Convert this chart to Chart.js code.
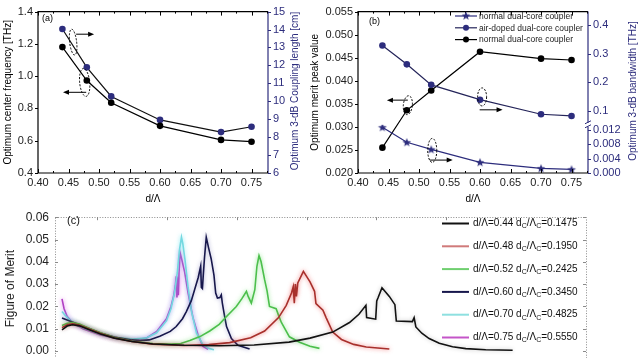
<!DOCTYPE html>
<html>
<head>
<meta charset="utf-8">
<title>Dual-core coupler charts</title>
<script src="https://cdn.jsdelivr.net/npm/chart.js@4.4.1/dist/chart.umd.min.js"></script>
<style>
  html, body { margin: 0; padding: 0; background: #fff; overflow: hidden; }
  body { width: 640px; height: 358px; position: relative; }
  canvas { position: absolute; }
</style>
</head>
<body>
<canvas id="chartA" width="305" height="206" style="left:0;top:0"></canvas>
<canvas id="chartB" width="340" height="206" style="left:300px;top:0"></canvas>
<canvas id="chartC" width="640" height="180" style="left:0;top:204px"></canvas>
<script>
Chart.defaults.font.family = '"Liberation Sans", Arial, sans-serif';
Chart.defaults.color = '#000';

const navy = '#2d2d7d';

// (a) and (b): sweep of d/Λ
const dRatio = [0.44, 0.48, 0.52, 0.60, 0.70, 0.75];
const centerFreq = [1.18, 0.973, 0.835, 0.692, 0.605, 0.594];
const couplingLength = [14.03, 11.89, 10.27, 8.96, 8.28, 8.58];
const meritPeak = [0.0255, 0.0336, 0.0379, 0.0463, 0.0448, 0.0445];
const bandwidthAir = [0.328, 0.262, 0.190, 0.138, 0.087, 0.081];
const bandwidthNormal = [0.0128, 0.0086, 0.0066, 0.0030, 0.0013, 0.0010];

const ratioTicks = [0.40, 0.45, 0.50, 0.55, 0.60, 0.65, 0.70, 0.75];
const freqTicks = [0.4, 0.6, 0.8, 1.0, 1.2, 1.4];
const lengthTicks = [6, 7, 8, 9, 10, 11, 12, 13, 14, 15];
const meritTicks = [0.020, 0.025, 0.030, 0.035, 0.040, 0.045, 0.050, 0.055];
const bwHighTicks = [0.1, 0.2, 0.3, 0.4];
const bwLowTicks = [0.000, 0.004, 0.008, 0.012];

const legendB = ['normal dual-core coupler', 'air-doped dual-core coupler', 'normal dual-core coupler'];

// (c): figure of merit spectra, [frequency, FOM]
const fomTicks = [0.00, 0.01, 0.02, 0.03, 0.04, 0.05, 0.06];
const spectrumTicks = [0.4, 0.6, 0.8, 1.0, 1.2, 1.4, 1.6, 1.8];
const holeRatio = ['0.44', '0.48', '0.52', '0.60', '0.70', '0.75'];
const coreRatio = ['0.1475', '0.1950', '0.2425', '0.3450', '0.4825', '0.5550'];

const fom044 = [[0.300,0.0095],[0.315,0.0112],[0.330,0.0118],[0.350,0.0113],[0.380,0.0095],[0.410,0.0077],
  [0.450,0.0058],[0.500,0.0043],[0.560,0.0032],[0.650,0.0026],[0.750,0.0024],[0.850,0.0027],[0.950,0.0040],
  [1.010,0.0058],[1.075,0.0085],[1.123,0.0128],[1.150,0.0165],[1.170,0.0205],[1.172,0.0150],[1.198,0.0143],
  [1.201,0.0225],[1.205,0.0240],[1.216,0.0284],[1.237,0.0245],[1.253,0.0208],[1.257,0.0135],[1.303,0.0132],
  [1.308,0.0150],[1.313,0.0108],[1.330,0.0080],[1.351,0.0056],[1.380,0.0035],[1.418,0.0019],[1.456,0.0011],
  [1.513,0.0006],[1.590,0.0004]];
const fom048 = [[0.300,0.0105],[0.315,0.0118],[0.330,0.0122],[0.350,0.0116],[0.380,0.0097],[0.410,0.0079],
  [0.450,0.0059],[0.500,0.0043],[0.560,0.0031],[0.650,0.0025],[0.720,0.0029],[0.780,0.0038],[0.840,0.0060],
  [0.880,0.0090],[0.920,0.0150],[0.942,0.0205],[0.957,0.0260],[0.962,0.0288],[0.965,0.0215],[0.968,0.0300],
  [0.971,0.0245],[0.975,0.0305],[0.991,0.0357],[1.010,0.0310],[1.023,0.0268],[1.027,0.0213],[1.047,0.0183],
  [1.056,0.0150],[1.075,0.0085],[1.100,0.0052],[1.135,0.0030],[1.171,0.0018],[1.237,0.0009]];
const fom052 = [[0.300,0.0115],[0.315,0.0125],[0.330,0.0128],[0.350,0.0121],[0.380,0.0100],[0.410,0.0082],
  [0.450,0.0061],[0.500,0.0044],[0.560,0.0034],[0.610,0.0031],[0.640,0.0034],[0.666,0.0047],[0.695,0.0065],
  [0.723,0.0090],[0.750,0.0120],[0.771,0.0155],[0.799,0.0200],[0.815,0.0235],[0.828,0.0268],[0.833,0.0245],
  [0.842,0.0215],[0.852,0.0275],[0.858,0.0380],[0.864,0.0428],[0.870,0.0400],[0.880,0.0320],[0.887,0.0270],
  [0.894,0.0200],[0.913,0.0190],[0.920,0.0160],[0.928,0.0128],[0.951,0.0064],[0.980,0.0040],[1.010,0.0022],
  [1.037,0.0012]];
const fom060 = [[0.300,0.0148],[0.320,0.0136],[0.350,0.0118],[0.380,0.0100],[0.410,0.0081],[0.450,0.0063],
  [0.500,0.0050],[0.523,0.0047],[0.550,0.0050],[0.580,0.0066],[0.610,0.0088],[0.627,0.0110],[0.645,0.0145],
  [0.656,0.0177],[0.670,0.0225],[0.680,0.0277],[0.690,0.0330],[0.697,0.0380],[0.699,0.0285],[0.702,0.0280],
  [0.704,0.0330],[0.708,0.0420],[0.713,0.0510],[0.720,0.0460],[0.727,0.0414],[0.735,0.0340],[0.740,0.0260],
  [0.745,0.0238],[0.752,0.0240],[0.756,0.0252],[0.759,0.0215],[0.765,0.0160],[0.771,0.0110],[0.785,0.0056],
  [0.804,0.0026],[0.837,0.0009]];
const fom070 = [[0.300,0.0177],[0.310,0.0158],[0.325,0.0136],[0.360,0.0106],[0.410,0.0077],[0.456,0.0061],
  [0.503,0.0054],[0.540,0.0058],[0.571,0.0082],[0.599,0.0135],[0.612,0.0190],[0.622,0.0260],[0.630,0.0350],
  [0.636,0.0450],[0.642,0.0510],[0.646,0.0480],[0.652,0.0410],[0.661,0.0285],[0.671,0.0175],[0.685,0.0080],
  [0.703,0.0030],[0.720,0.0012],[0.735,0.0006]];
const fom075 = [[0.300,0.0234],[0.306,0.0190],[0.315,0.0155],[0.330,0.0128],[0.360,0.0100],[0.410,0.0072],
  [0.456,0.0056],[0.503,0.0051],[0.540,0.0057],[0.571,0.0088],[0.599,0.0145],[0.612,0.0200],[0.620,0.0250],
  [0.625,0.0300],[0.627,0.0335],[0.629,0.0240],[0.631,0.0330],[0.633,0.0250],[0.635,0.0350],[0.638,0.0442],
  [0.643,0.0410],[0.651,0.0355],[0.661,0.0260],[0.675,0.0150],[0.689,0.0075],[0.703,0.0022],[0.718,0.0008]];

const spectra = [fom044, fom048, fom052, fom060, fom070, fom075];
const lineColors = ['#111111', '#a8302c', '#4cbf4c', '#17174c', '#74d8e0', '#b040c4'];
const glowColors = ['rgba(0,0,0,0.25)', 'rgba(235,60,60,0.7)', 'rgba(90,220,90,0.7)', 'rgba(40,40,140,0.4)', 'rgba(110,230,240,0.8)', 'rgba(220,80,230,0.8)'];
const legendColors = ['#111111', '#d07a7a', '#6fcf6f', '#17174c', '#8ee0e0', '#c455c8'];

function setTicks(list) { return scale => { scale.ticks = list.map(v => ({ value: v })); }; }
function fixWidth(w) { return scale => { scale.width = w; }; }
function fixHeight(h) { return scale => { scale.height = h; }; }
function xy(xs, ys) { return xs.map((x, i) => ({ x: x, y: ys[i] })); }

function starImage(color) {
  const c = document.createElement('canvas');
  c.width = 10; c.height = 10;
  const g = c.getContext('2d');
  g.fillStyle = color;
  g.beginPath();
  for (let i = 0; i < 10; i++) {
    const r = i % 2 ? 1.9 : 4.6;
    const a = -Math.PI / 2 + i * Math.PI / 5;
    g.lineTo(5 + r * Math.cos(a), 5.4 + r * Math.sin(a));
  }
  g.closePath();
  g.fill();
  return c;
}

// frame with inward x ticks and outward y ticks
const framePlugin = {
  id: 'frame',
  afterDraw(chart, args, opts) {
    const { ctx, chartArea: a, scales } = chart;
    ctx.save();
    ctx.lineWidth = 1.2;
    ctx.strokeStyle = '#000';
    ctx.beginPath();
    ctx.moveTo(a.right, a.top); ctx.lineTo(a.left, a.top);
    ctx.lineTo(a.left, a.bottom); ctx.lineTo(a.right, a.bottom);
    ctx.stroke();
    ctx.strokeStyle = opts.rightColor;
    ctx.beginPath(); ctx.moveTo(a.right, a.top); ctx.lineTo(a.right, a.bottom); ctx.stroke();

    ctx.lineWidth = 1;
    ctx.strokeStyle = '#000';
    const xs = scales.x;
    ctx.beginPath();
    xs.ticks.forEach(t => {
      [[t.value, 4], [t.value + 0.025, 2]].forEach(([v, len]) => {
        if (v > xs.max) return;
        const px = Math.round(xs.getPixelForValue(v)) + 0.5;
        ctx.moveTo(px, a.bottom); ctx.lineTo(px, a.bottom - len);
        ctx.moveTo(px, a.top); ctx.lineTo(px, a.top + len);
      });
    });
    ctx.stroke();

    Object.values(scales).forEach(s => {
      if (s.axis !== 'y') return;
      const left = s.position === 'left';
      const x0 = left ? a.left : a.right;
      ctx.strokeStyle = left ? '#000' : opts.rightColor;
      ctx.beginPath();
      s.ticks.forEach(t => {
        const py = Math.round(s.getPixelForValue(t.value)) + 0.5;
        ctx.moveTo(x0, py); ctx.lineTo(x0 + (left ? -3 : 3), py);
      });
      ctx.stroke();
    });

    if (opts.breakAt) {
      const y = scales[opts.breakAt].top;
      ctx.fillStyle = '#fff';
      ctx.fillRect(a.right - 4, y - 2, 8, 4);
      ctx.strokeStyle = opts.rightColor;
      ctx.beginPath();
      ctx.moveTo(a.right - 3, y - 1); ctx.lineTo(a.right + 3, y - 4);
      ctx.moveTo(a.right - 3, y + 3); ctx.lineTo(a.right + 3, y);
      ctx.stroke();
    }
    ctx.restore();
  }
};

// dashed ellipses and arrows that point at the axis of each curve
const markPlugin = {
  id: 'marks',
  afterDatasetsDraw(chart, args, opts) {
    const { ctx, scales } = chart;
    const xs = scales.x, ys = scales.y;
    ctx.save();
    ctx.strokeStyle = '#000';
    ctx.fillStyle = '#000';
    ctx.lineWidth = 1;
    ctx.setLineDash([2, 1.5]);
    (opts.ellipses || []).forEach(e => {
      ctx.beginPath();
      ctx.ellipse(xs.getPixelForValue(e.x), ys.getPixelForValue(e.y), e.rx, e.ry, e.rot || 0, 0, Math.PI * 2);
      ctx.stroke();
    });
    ctx.setLineDash([]);
    (opts.arrows || []).forEach(r => {
      const x1 = xs.getPixelForValue(r.from), x2 = xs.getPixelForValue(r.to), y = ys.getPixelForValue(r.y);
      const dir = Math.sign(x2 - x1);
      ctx.beginPath(); ctx.moveTo(x1, y); ctx.lineTo(x2 - dir * 4, y); ctx.stroke();
      ctx.beginPath();
      ctx.moveTo(x2, y); ctx.lineTo(x2 - dir * 6, y - 2.5); ctx.lineTo(x2 - dir * 6, y + 2.5);
      ctx.closePath(); ctx.fill();
    });
    ctx.restore();
  }
};

// free text: panel tags and right-hand titles that read bottom to top
const textPlugin = {
  id: 'texts',
  afterDraw(chart, args, opts) {
    const ctx = chart.ctx;
    (opts.items || []).forEach(t => {
      ctx.save();
      ctx.font = t.size + 'px "Liberation Sans", Arial, sans-serif';
      ctx.fillStyle = t.color || '#000';
      ctx.textAlign = t.align || 'left';
      ctx.textBaseline = 'middle';
      ctx.translate(t.x, t.y);
      if (t.rotate) ctx.rotate(-Math.PI / 2);
      ctx.fillText(t.text, 0, 0);
      ctx.restore();
    });
  }
};

const legendBPlugin = {
  id: 'legendB',
  afterDraw(chart) {
    const ctx = chart.ctx;
    ctx.save();
    ctx.font = '8.5px "Liberation Sans", Arial, sans-serif';
    ctx.textBaseline = 'middle';
    chart.data.datasets.forEach((ds, row) => {
      const y = 16 + row * 11.8;
      ctx.strokeStyle = ds.borderColor;
      ctx.lineWidth = 1.2;
      ctx.beginPath(); ctx.moveTo(155, y); ctx.lineTo(177, y); ctx.stroke();
      if (ds.pointStyle instanceof HTMLCanvasElement) {
        ctx.drawImage(ds.pointStyle, 166 - 5, y - 5.4);
      } else {
        ctx.fillStyle = ds.pointBackgroundColor;
        ctx.beginPath(); ctx.arc(166, y, 3, 0, Math.PI * 2); ctx.fill();
      }
      ctx.fillStyle = '#222';
      ctx.fillText(legendB[row], 179, y + 0.5);
    });
    ctx.restore();
  }
};

const axisText = { font: { size: 11 }, color: '#222', autoSkip: false, maxRotation: 0 };
const plainGrid = { drawOnChartArea: false, drawTicks: false };

const ratioAxis = {
  type: 'linear', position: 'bottom', min: 0.40, max: 0.777,
  afterBuildTicks: setTicks(ratioTicks), afterFit: fixHeight(33),
  ticks: Object.assign({}, axisText, { padding: 3, callback: v => v.toFixed(2) }),
  grid: plainGrid, border: { display: false },
  title: { display: true, text: 'd/Λ', font: { size: 10 }, padding: { top: 0, bottom: 1 } }
};

new Chart(document.getElementById('chartA'), {
  type: 'line',
  data: {
    datasets: [
      {
        data: xy(dRatio, centerFreq), yAxisID: 'y',
        borderColor: '#000', borderWidth: 1.2,
        pointRadius: 3.3, pointBackgroundColor: '#000', pointBorderColor: '#000', pointBorderWidth: 0
      },
      {
        data: xy(dRatio, couplingLength), yAxisID: 'y2',
        borderColor: '#111', borderWidth: 1.2,
        pointRadius: 3.3, pointBackgroundColor: navy, pointBorderColor: navy, pointBorderWidth: 0
      }
    ]
  },
  options: {
    responsive: false,
    animation: false,
    layout: { padding: { top: 9 } },
    plugins: {
      legend: { display: false },
      tooltip: { enabled: false },
      frame: { rightColor: navy },
      marks: {
        ellipses: [{ x: 0.4576, y: 1.211, rx: 3.5, ry: 13, rot: -0.12 }, { x: 0.4765, y: 0.961, rx: 5, ry: 14, rot: -0.1 }],
        arrows: [{ from: 0.4625, to: 0.492, y: 1.26 }, { from: 0.479, to: 0.441, y: 0.90 }]
      },
      texts: {
        items: [
          { text: '(a)', x: 42, y: 19, size: 9 },
          { text: 'Optimum 3-dB Coupling length [cm]', x: 295, y: 91, size: 10, rotate: true, align: 'center', color: navy }
        ]
      }
    },
    scales: {
      x: ratioAxis,
      y: {
        position: 'left', min: 0.4, max: 1.4,
        afterBuildTicks: setTicks(freqTicks), afterFit: fixWidth(38),
        ticks: Object.assign({}, axisText, { padding: 5, callback: v => v.toFixed(1) }),
        grid: plainGrid, border: { display: false },
        title: { display: true, text: 'Optimum center frequency [THz]', font: { size: 10 }, padding: { top: 2, bottom: 0 } }
      },
      y2: {
        position: 'right', min: 6, max: 15,
        afterBuildTicks: setTicks(lengthTicks), afterFit: fixWidth(37),
        ticks: Object.assign({}, axisText, { padding: 5, color: navy, callback: v => String(v) }),
        grid: plainGrid, border: { display: false }
      }
    }
  },
  plugins: [framePlugin, markPlugin, textPlugin]
});

new Chart(document.getElementById('chartB'), {
  type: 'line',
  data: {
    datasets: [
      {
        data: xy(dRatio, bandwidthNormal), yAxisID: 'yLow',
        borderColor: navy, borderWidth: 1.2,
        pointStyle: starImage(navy), pointRadius: 4
      },
      {
        data: xy(dRatio, bandwidthAir), yAxisID: 'yHigh',
        borderColor: '#25255a', borderWidth: 1.2,
        pointRadius: 3.3, pointBackgroundColor: navy, pointBorderColor: navy, pointBorderWidth: 0
      },
      {
        data: xy(dRatio, meritPeak), yAxisID: 'y',
        borderColor: '#000', borderWidth: 1.2,
        pointRadius: 3.3, pointBackgroundColor: '#000', pointBorderColor: '#000', pointBorderWidth: 0
      }
    ]
  },
  options: {
    responsive: false,
    animation: false,
    layout: { padding: { top: 9 } },
    plugins: {
      legend: { display: false },
      tooltip: { enabled: false },
      frame: { rightColor: navy, breakAt: 'yLow' },
      marks: {
        ellipses: [
          { x: 0.4817, y: 0.0347, rx: 4.5, ry: 9.5, rot: 0.1 },
          { x: 0.6034, y: 0.0365, rx: 4.5, ry: 9, rot: 0 },
          { x: 0.5217, y: 0.0249, rx: 4.5, ry: 12, rot: 0 }
        ],
        arrows: [
          { from: 0.4817, to: 0.4474, y: 0.0358 },
          { from: 0.5994, to: 0.637, y: 0.0337 },
          { from: 0.5176, to: 0.5552, y: 0.0228 }
        ]
      },
      texts: {
        items: [
          { text: '(b)', x: 69, y: 22, size: 9 },
          { text: 'Optimum 3-dB bandwidth [THz]', x: 333, y: 91, size: 10, rotate: true, align: 'center', color: navy }
        ]
      }
    },
    scales: {
      x: ratioAxis,
      y: {
        position: 'left', min: 0.020, max: 0.055,
        afterBuildTicks: setTicks(meritTicks), afterFit: fixWidth(58),
        ticks: Object.assign({}, axisText, { padding: 5, callback: v => v.toFixed(3) }),
        grid: plainGrid, border: { display: false },
        title: { display: true, text: 'Optimum merit peak value', font: { size: 10 }, padding: { top: 9, bottom: 0 } }
      },
      yHigh: {
        position: 'right', stack: 'bw', stackWeight: 115, min: 0.05, max: 0.447,
        afterBuildTicks: setTicks(bwHighTicks), afterFit: fixWidth(52),
        ticks: Object.assign({}, axisText, { padding: 5, color: navy, callback: v => v.toFixed(1) }),
        grid: plainGrid, border: { display: false }
      },
      yLow: {
        position: 'right', stack: 'bw', stackWeight: 49, min: 0, max: 0.0135,
        afterBuildTicks: setTicks(bwLowTicks), afterFit: fixWidth(52),
        ticks: Object.assign({}, axisText, { padding: 5, color: navy, callback: v => v.toFixed(3) }),
        grid: plainGrid, border: { display: false }
      }
    }
  },
  plugins: [framePlugin, markPlugin, textPlugin, legendBPlugin]
});

// (c)
const glowPlugin = {
  id: 'glow',
  beforeDatasetDraw(chart, args) {
    chart.ctx.save();
    chart.ctx.shadowColor = glowColors[args.index];
    chart.ctx.shadowBlur = 4;
  },
  afterDatasetDraw(chart) {
    chart.ctx.restore();
  }
};

const dottedFramePlugin = {
  id: 'dottedFrame',
  afterDraw(chart) {
    const { ctx, chartArea: a, scales } = chart;
    ctx.save();
    ctx.strokeStyle = '#8a8a8a';
    ctx.lineWidth = 1;
    ctx.setLineDash([1, 1.6]);
    ctx.strokeRect(Math.round(a.left) + 0.5, Math.round(a.top) + 0.5, Math.round(a.width), Math.round(a.height));
    ctx.setLineDash([]);
    ctx.beginPath();
    spectrumTicks.forEach(v => {
      if (v >= scales.x.max) return;
      const px = Math.round(scales.x.getPixelForValue(v)) + 0.5;
      ctx.moveTo(px, a.top); ctx.lineTo(px, a.top + 3);
    });
    fomTicks.forEach(v => {
      const py = Math.round(scales.y.getPixelForValue(v)) + 0.5;
      ctx.moveTo(a.left, py); ctx.lineTo(a.left + 3, py);
      ctx.moveTo(a.right, py); ctx.lineTo(a.right - 3, py);
    });
    ctx.stroke();

    ctx.fillStyle = '#111';
    ctx.font = '11px "Liberation Sans", Arial, sans-serif';
    ctx.textBaseline = 'middle';
    ctx.fillText('(c)', 67, 17);

    // legend with subscripts
    holeRatio.forEach((d, i) => {
      const y = 19.5 + i * 22.8;
      ctx.strokeStyle = legendColors[i];
      ctx.lineWidth = 2;
      ctx.beginPath(); ctx.moveTo(442, y); ctx.lineTo(469, y); ctx.stroke();
      let x = 473;
      const parts = [['d/Λ=' + d + ' d', 10, 0], ['C', 7, 3], ['/Λ', 10, 0], ['C', 7, 3], ['=' + coreRatio[i], 10, 0]];
      parts.forEach(([txt, size, dy]) => {
        ctx.font = size + 'px "Liberation Sans", Arial, sans-serif';
        ctx.fillText(txt, x, y + dy);
        x += ctx.measureText(txt).width;
      });
    });
    ctx.restore();
  }
};

new Chart(document.getElementById('chartC'), {
  type: 'line',
  data: {
    datasets: spectra.map((curve, i) => ({
      data: curve.map(p => ({ x: p[0], y: p[1] })),
      borderColor: lineColors[i],
      borderWidth: 1.6,
      pointRadius: 0,
      tension: 0
    }))
  },
  options: {
    responsive: false,
    animation: false,
    layout: { padding: { top: 8, right: 54, bottom: 24 } },
    plugins: { legend: { display: false }, tooltip: { enabled: false } },
    scales: {
      x: { type: 'linear', min: 0.28, max: 1.8, display: false },
      y: {
        min: -0.004, max: 0.06,
        afterBuildTicks: setTicks(fomTicks), afterFit: fixWidth(55),
        ticks: { font: { size: 12 }, color: '#222', padding: 6, autoSkip: false, callback: v => v.toFixed(2) },
        grid: plainGrid, border: { display: false },
        title: { display: true, text: 'Figure of Merit', font: { size: 12 }, color: '#222', padding: { top: 3, bottom: 0 } }
      }
    }
  },
  plugins: [glowPlugin, dottedFramePlugin]
});
</script>
</body>
</html>
